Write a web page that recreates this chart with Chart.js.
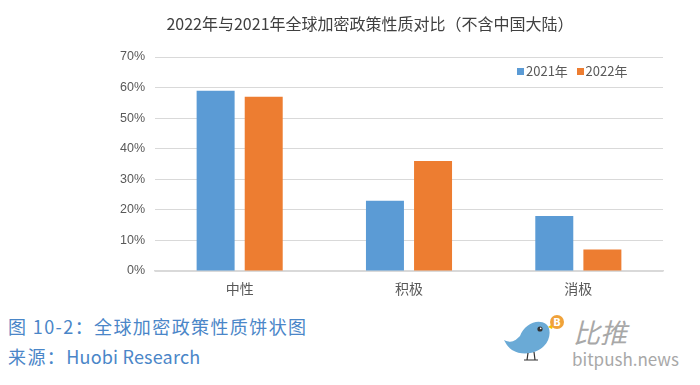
<!DOCTYPE html>
<html><head><meta charset="utf-8">
<script src="https://cdn.jsdelivr.net/npm/chart.js@4/dist/chart.umd.min.js"></script>
<style>
html,body{margin:0;padding:0;background:#fff;width:700px;height:385px;overflow:hidden;font-family:"Noto Sans CJK SC","Noto Sans",sans-serif;}
#wrap{position:absolute;left:0;top:0;width:700px;height:300px;}
#title{position:absolute;left:0;width:740px;top:11px;text-align:center;font-size:16px;color:#404040;}
#legend{position:absolute;left:517px;top:61px;font-size:13px;color:#595959;white-space:nowrap;}
#legend span.sw{display:inline-block;width:7px;height:7px;margin-right:2px;vertical-align:1px;}
.cap{position:absolute;left:8px;font-size:18px;letter-spacing:1.4px;color:#4a86c8;white-space:nowrap;}
.lat{letter-spacing:0.2px;}
#brand1{position:absolute;left:573px;top:312px;font-size:27px;color:#a8a8a8;font-style:italic;}
#brand2{position:absolute;left:572px;top:346px;font-size:17px;color:#a8a8a8;}
svg{position:absolute;left:498px;top:310px;}
</style></head>
<body>
<div id="wrap"><canvas id="c" width="700" height="300"></canvas></div>
<div id="title">2022年与2021年全球加密政策性质对比（不含中国大陆）</div>
<div id="legend"><span class="sw" style="background:#5b9bd5"></span>2021年&nbsp;&nbsp;&nbsp;<span class="sw" style="background:#ed7d31"></span>2022年</div>
<div class="cap" style="top:313px">图 10-2：全球加密政策性质饼状图</div>
<div class="cap" style="top:343px">来源：<span class="lat">Huobi Research</span></div>
<svg width="70" height="55" viewBox="0 0 70 55">
  <path d="M6 30 C14 34 18 30 22 26 C26 14 40 8 48 14 C54 19 52 30 46 36 C38 44 24 46 14 40 C10 37 8 34 6 30 Z" fill="#6aaad6"/>
  <circle cx="42" cy="19" r="2.6" fill="#333"/>
  <circle cx="42.7" cy="18.4" r="0.8" fill="#fff"/>
  <path d="M50 17 L56 13 L54 19 Z" fill="#f2c200"/>
  <circle cx="59" cy="12" r="7" fill="#f0a23a"/>
  <text x="59" y="16" font-size="10" fill="#fff" text-anchor="middle" font-family="DejaVu Sans" font-weight="bold">B</text>
  <path d="M30 43 L29 50 M36 42 L37 50 M26 50 L33 50 M33 50 L40 50" stroke="#333" stroke-width="1.2" fill="none"/>
</svg>
<div id="brand1">比推</div>
<div id="brand2">bitpush.news</div>
<script>
const categories = ["中性", "积极", "消极"];
const series2021 = [59, 23, 18];
const series2022 = [57, 36, 7];
const seriesNames = ["2021年", "2022年"];
const yTicks = [0, 10, 20, 30, 40, 50, 60, 70];

new Chart(document.getElementById('c'), {
  type: 'bar',
  data: {
    labels: categories,
    datasets: [
      {label: seriesNames[0], data: series2021, backgroundColor: '#5b9bd5', categoryPercentage: 0.568, barPercentage: 0.79},
      {label: seriesNames[1], data: series2022, backgroundColor: '#ed7d31', categoryPercentage: 0.568, barPercentage: 0.79}
    ]
  },
  options: {
    responsive: false,
    animation: false,
    layout: {padding: {left: 90, right: 37, top: 57, bottom: 4}},
    plugins: {legend: {display: false}, title: {display: false}, tooltip: {enabled: false}},
    scales: {
      x: {
        grid: {display: false, drawTicks: false},
        border: {display: true, color: '#d9d9d9', width: 1.5},
        ticks: {color: '#595959', font: {size: 14, family: '"Noto Sans CJK SC"'}, padding: 9},
        afterFit: s => { s.height = 25; }
      },
      y: {
        min: 0, max: 70,
        afterBuildTicks: s => { s.ticks = yTicks.map(v => ({value: v})); },
        grid: {color: '#d9d9d9', drawTicks: false},
        border: {display: false},
        ticks: {color: '#595959', font: {size: 12.5, family: '"Liberation Sans"'}, padding: 10, callback: v => v + '%'},
        afterFit: s => { s.width = 65; }
      }
    }
  }
});
</script>
</body></html>
